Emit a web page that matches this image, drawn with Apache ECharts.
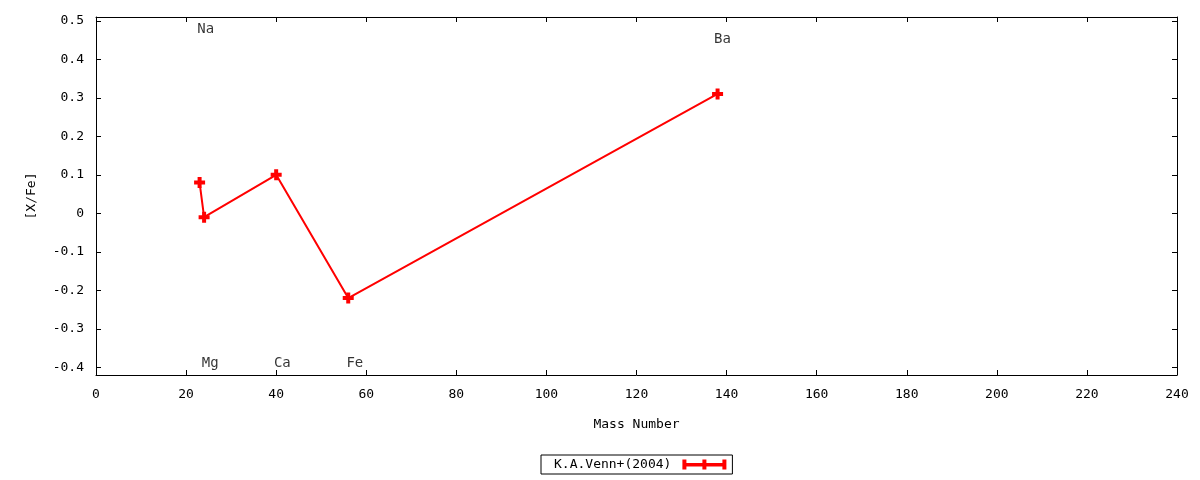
<!DOCTYPE html>
<html lang="en">
<head>
    <meta charset="UTF-8">
    <title>[X/Fe] vs Mass Number</title>
    <script src="https://cdn.jsdelivr.net/npm/echarts@6.0.0/dist/echarts.min.js"></script>
    <style>
        html, body { margin: 0; padding: 0; background: #fff; }
        #pic1 { width: 1200px; height: 480px; }
    </style>
</head>
<body>
    <div id="pic1"></div>
    <script>
        // data
        var massNumbers = [23, 24, 40, 56, 138];
        var xFe = [0.08, -0.01, 0.10, -0.22, 0.31];

        // element labels (left edge at the given x)
        var labelNames = ['Na', 'Mg', 'Ca', 'Fe', 'Ba'];
        var labelX = [22.5, 23.5, 39.5, 55.6, 137.2];
        var labelY = [0.479, -0.39, -0.39, -0.39, 0.453];

        var yTicks = [-0.4, -0.3, -0.2, -0.1, 0, 0.1, 0.2, 0.3, 0.4, 0.5];

        var font = 'DejaVu Sans Mono';
        var plus = 'path://M3.5,0h4v3.5h3.5v4h-3.5v3.5h-4v-3.5h-3.5v-4h3.5z';

        var myChart = echarts.init(document.getElementById('pic1'));

        var lineData = massNumbers.map(function (m, i) { return [m, xFe[i]]; });
        var textData = labelNames.map(function (n, i) { return [labelX[i], labelY[i], n]; });

        var axisLineStyle = { color: '#000', width: 1 };

        var option = {
            backgroundColor: '#fff',
            animation: false,
            textStyle: { fontFamily: font },
            grid: { left: 96, right: 23, top: 17, bottom: 105, containLabel: false },
            legend: {
                top: 455,
                left: 541,
                align: 'right',
                borderColor: '#000',
                borderWidth: 1,
                borderRadius: 0,
                padding: [3, 6, 3, 13],
                itemWidth: 44,
                itemHeight: 10,
                itemGap: 0,
                textStyle: { fontFamily: font, fontSize: 13, color: '#000', padding: [0, 6, 0, 0] },
                data: [{
                    name: 'K.A.Venn+(2004)',
                    icon: 'path://M0,0h4v10h-4z M4,3.5h36v3.5h-36z M20,0h4v10h-4z M40,0h4v10h-4z'
                }]
            },
            xAxis: [{
                type: 'value',
                min: 0,
                max: 240,
                interval: 20,
                name: 'Mass Number',
                nameLocation: 'middle',
                nameGap: 43,
                nameTextStyle: { fontFamily: font, fontSize: 13, color: '#000' },
                axisLine: { show: true, onZero: false, lineStyle: axisLineStyle },
                axisTick: { inside: true, length: 5, lineStyle: axisLineStyle },
                axisLabel: { margin: 13, fontFamily: font, fontSize: 13, color: '#000' },
                splitLine: { show: false }
            }, {
                type: 'value',
                position: 'top',
                min: 0,
                max: 240,
                interval: 20,
                axisLine: { show: true, onZero: false, lineStyle: axisLineStyle },
                axisTick: { inside: true, length: 5, lineStyle: axisLineStyle },
                axisLabel: { show: false },
                splitLine: { show: false }
            }],
            yAxis: [{
                type: 'value',
                min: -0.42,
                max: 0.51,
                name: '[X/Fe]',
                nameLocation: 'middle',
                nameGap: 58,
                nameRotate: 90,
                nameTextStyle: { fontFamily: font, fontSize: 13, color: '#000' },
                axisLine: { show: true, onZero: false, lineStyle: axisLineStyle },
                axisTick: { inside: true, length: 5, lineStyle: axisLineStyle, customValues: yTicks },
                axisLabel: {
                    margin: 12, fontFamily: font, fontSize: 13, color: '#000',
                    customValues: yTicks,
                    formatter: function (v) { return String(Math.round(v * 10) / 10); }
                },
                splitLine: { show: false }
            }, {
                type: 'value',
                position: 'right',
                min: -0.42,
                max: 0.51,
                axisLine: { show: true, onZero: false, lineStyle: axisLineStyle },
                axisTick: { inside: true, length: 5, lineStyle: axisLineStyle, customValues: yTicks },
                axisLabel: { show: false, customValues: yTicks },
                splitLine: { show: false }
            }],
            series: [{
                name: 'K.A.Venn+(2004)',
                type: 'line',
                data: lineData,
                symbol: plus,
                symbolSize: 11,
                showAllSymbol: true,
                color: '#ff0000',
                lineStyle: { color: '#ff0000', width: 2 },
                itemStyle: { color: '#ff0000' }
            }, {
                name: 'labels',
                type: 'scatter',
                data: textData,
                symbolSize: 0,
                silent: true,
                label: {
                    show: true,
                    position: 'right',
                    distance: 0,
                    formatter: function (p) { return p.data[2]; },
                    fontFamily: font,
                    fontSize: 14,
                    color: '#000'
                }
            }]
        };

        myChart.setOption(option);
    </script>
</body>
</html>
